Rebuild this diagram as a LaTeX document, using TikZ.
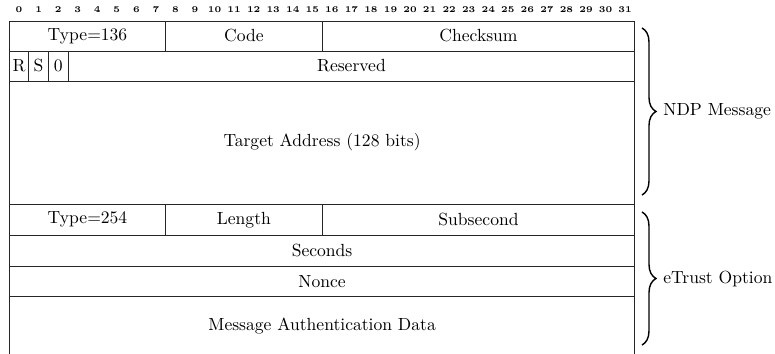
\documentclass[tikz,border=0pt]{standalone}
\usepackage{tikz}
\usetikzlibrary{decorations.pathreplacing}

\begin{document}
\begin{tikzpicture}[x=1cm,y=1cm,
 field/.style={draw=black!85,line width=0.5pt,inner sep=0pt,
 font=\normalsize,minimum height=0.6cm},
 bitno/.style={font=\tiny\bfseries,inner sep=0pt},
 span/.style={decorate,decoration={brace,amplitude=0.28cm},line width=0.8pt},
 label/.style={anchor=west,inner sep=0pt,font=\normalsize}]
\useasboundingbox (0,0) rectangle (15.5,-7.08);
% bit numbers
\foreach \i in {0,...,31}
 \node[bitno] (bit\i) at ({0.186+0.391*(\i+0.5)},-0.20) {\i};
% NDP message
\node[field,minimum width=3.128cm] (type) at (1.750,-0.72) {Type=136};
\node[field,minimum width=3.128cm] (code) at (4.878,-0.72) {Code};
\node[field,minimum width=6.256cm] (checksum) at (9.570,-0.72) {Checksum};
\node[field,minimum width=0.391cm] (rflag) at (0.3815,-1.32) {R};
\node[field,minimum width=0.391cm] (sflag) at (0.7725,-1.32) {S};
\node[field,minimum width=0.391cm] (zflag) at (1.1635,-1.32) {0};
\node[field,minimum width=11.339cm] (reserved) at (7.0285,-1.32) {Reserved};
\node[field,minimum width=12.512cm,minimum height=2.46cm] (target) at (6.442,-2.85)
 {Target Address (128 bits)};
% eTrust option
\node[field,minimum width=3.128cm,minimum height=0.63cm] (etype) at (1.750,-4.395) {Type=254};
\node[field,minimum width=3.128cm,minimum height=0.63cm] (length) at (4.878,-4.395) {Length};
\node[field,minimum width=6.256cm,minimum height=0.63cm] (subsec) at (9.570,-4.395) {Subsecond};
\node[field,minimum width=12.512cm,minimum height=0.61cm] (seconds) at (6.442,-5.015) {Seconds};
\node[field,minimum width=12.512cm,minimum height=0.61cm] (nonce) at (6.442,-5.625) {Nonce};
\node[field,minimum width=12.512cm,minimum height=1.2cm] (mad) at (6.442,-6.53)
 {Message Authentication Data};
% braces
\coordinate (ndptop) at (12.84,-0.56);
\coordinate (ndpbot) at (12.84,-3.90);
\coordinate (opttop) at (12.84,-4.24);
\coordinate (optbot) at (12.84,-6.90);
\draw[span] (ndptop) -- (ndpbot);
\draw[span] (opttop) -- (optbot);
\node[label] (ndp) at (13.26,-2.22) {NDP Message};
\node[label] (etrust) at (13.26,-5.58) {eTrust Option};
\end{tikzpicture}
\end{document}
